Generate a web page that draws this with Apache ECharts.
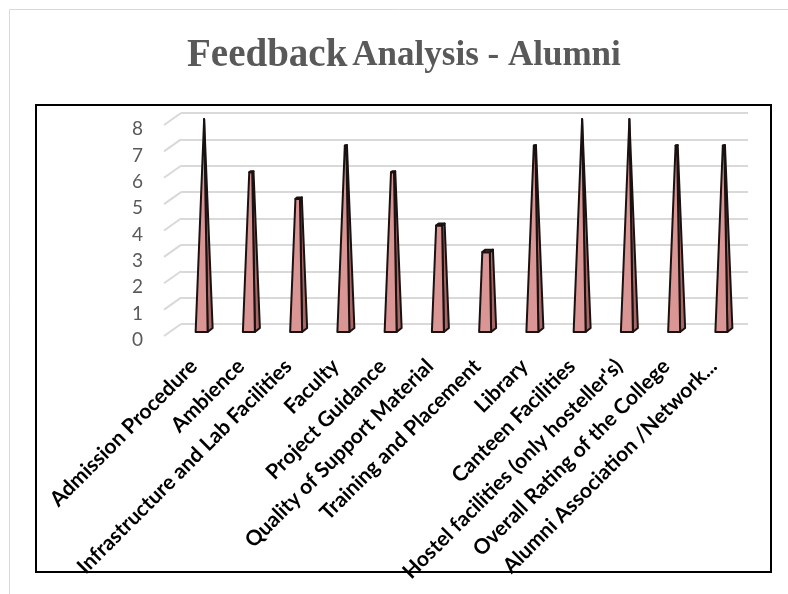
<!DOCTYPE html>
<html>
<head>
<meta charset="utf-8">
<script src="https://cdn.jsdelivr.net/npm/echarts@6/dist/echarts.min.js"></script>
<style>
  html, body { margin: 0; padding: 0; background: #fff; }
  #chart { width: 788px; height: 594px; }
</style>
</head>
<body>
<div id="chart"></div>
<script>
// feedback categories and scores
const categories = [
  'Admission Procedure',
  'Ambience',
  'Infrastructure and Lab Facilities',
  'Faculty',
  'Project Guidance',
  'Quality of Support Material',
  'Training and Placement',
  'Library',
  'Canteen Facilities',
  "Hostel facilities (only hosteller's)",
  'Overall Rating of the College',
  'Alumni Association /Network...'
]
const scores = [8, 6, 5, 7, 6, 4, 3, 7, 8, 8, 7, 7]
const yTicks = [0, 1, 2, 3, 4, 5, 6, 7, 8]
const yMax = 8

const chart = echarts.init(document.getElementById('chart'))

// excel style 3d pyramid, the full pyramid reaches yMax, lower values get cut flat
function renderPyramid(params, api) {
  const i = api.value(0)
  const v = api.value(1)
  const base = api.coord([i, 0])
  const full = api.coord([i, yMax])
  const cx = base[0], y0 = base[1]
  const h = y0 - full[1]
  const t = v / yMax
  const foot = [[-8, 0], [4, 0], [9, -4], [-3, -4]]
  const apex = [0.5, -2 - h]
  const bot = foot.map(p => [cx + p[0], y0 + p[1]])
  const top = foot.map(p => [cx + p[0] + (apex[0] - p[0]) * t, y0 + p[1] + (apex[1] - p[1]) * t])
  const stroke = {stroke: '#1a1111', lineWidth: 2, lineJoin: 'round'}
  const kids = [
    {type: 'polygon', shape: {points: [bot[1], bot[2], top[2], top[1]]}, style: Object.assign({fill: '#a86866'}, stroke)},
    {type: 'polygon', shape: {points: [bot[0], bot[1], top[1], top[0]]}, style: Object.assign({fill: '#d99694'}, stroke)}
  ]
  if (t < 1) {
    kids.push({type: 'polygon', shape: {points: top}, style: Object.assign({fill: '#7a4a4a'}, stroke)})
  }
  return {type: 'group', children: kids}
}

// little slanted lines at the left of the gridlines (3d floor look)
function renderStub(params, api) {
  const p = api.coord([0, api.value(0)])
  const left = params.coordSys.x
  return {
    type: 'line',
    shape: {x1: left - 17, y1: p[1] + 12, x2: left, y2: p[1]},
    style: {stroke: '#d9d9d9', lineWidth: 2}
  }
}

const option = {
  backgroundColor: '#fff',
  animation: false,
  title: {
    text: '{a|Feedback} {b|Analysis - Alumni}',
    left: 182,
    top: 31,
    textStyle: {
      rich: {
        a: {fontFamily: 'Liberation Serif', fontWeight: 'bold', fontSize: 39, color: '#595959'},
        b: {fontFamily: 'Liberation Serif', fontWeight: 'bold', fontSize: 35, color: '#595959'}
      }
    }
  },
  graphic: [
    {type: 'rect', shape: {x: 9.5, y: 9.5, width: 900, height: 700}, style: {fill: null, stroke: '#d9d9d9', lineWidth: 1}, silent: true},
    {type: 'rect', shape: {x: 36, y: 105, width: 735, height: 467}, style: {fill: null, stroke: '#000', lineWidth: 2}, silent: true}
  ],
  grid: [
    // back wall gridlines
    {left: 181, right: 40, top: 113, bottom: 270},
    // pyramids sit a bit lower, in front
    {left: 180, right: 41, top: 121, bottom: 262},
    // value labels, front left edge
    {left: 181, right: 40, top: 129, bottom: 254}
  ],
  xAxis: [
    {type: 'category', gridIndex: 0, data: categories, show: false},
    {
      type: 'category', gridIndex: 1, data: categories,
      axisLine: {show: false},
      axisTick: {show: false},
      axisLabel: {
        interval: 0,
        rotate: 45,
        margin: 21,
        padding: [0, 14, 0, 0],
        color: '#000',
        fontFamily: 'Lato',
        fontWeight: 'bold',
        fontSize: 21
      }
    },
    {type: 'category', gridIndex: 2, data: categories, show: false}
  ],
  yAxis: [
    {
      type: 'value', gridIndex: 0, min: 0, max: yMax, interval: 1,
      axisLine: {show: false},
      axisTick: {show: false},
      axisLabel: {show: false},
      splitLine: {lineStyle: {color: '#d9d9d9', width: 2}}
    },
    {
      type: 'value', gridIndex: 1, min: 0, max: yMax, interval: 1,
      show: false, splitLine: {show: false}
    },
    {
      type: 'value', gridIndex: 2, min: 0, max: yMax, interval: 1,
      axisLine: {show: false},
      axisTick: {show: false},
      splitLine: {show: false},
      axisLabel: {
        margin: 38,
        color: '#595959',
        fontFamily: 'Lato',
        fontSize: 19
      }
    }
  ],
  series: [
    {
      type: 'custom',
      xAxisIndex: 0, yAxisIndex: 0,
      renderItem: renderStub,
      data: yTicks.map(v => [v]),
      encode: {y: 0},
      silent: true
    },
    {
      type: 'custom',
      name: 'Feedback',
      xAxisIndex: 1, yAxisIndex: 1,
      renderItem: renderPyramid,
      data: scores.map((v, i) => [i, v]),
      encode: {x: 0, y: 1}
    }
  ]
}

chart.setOption(option)
</script>
</body>
</html>
